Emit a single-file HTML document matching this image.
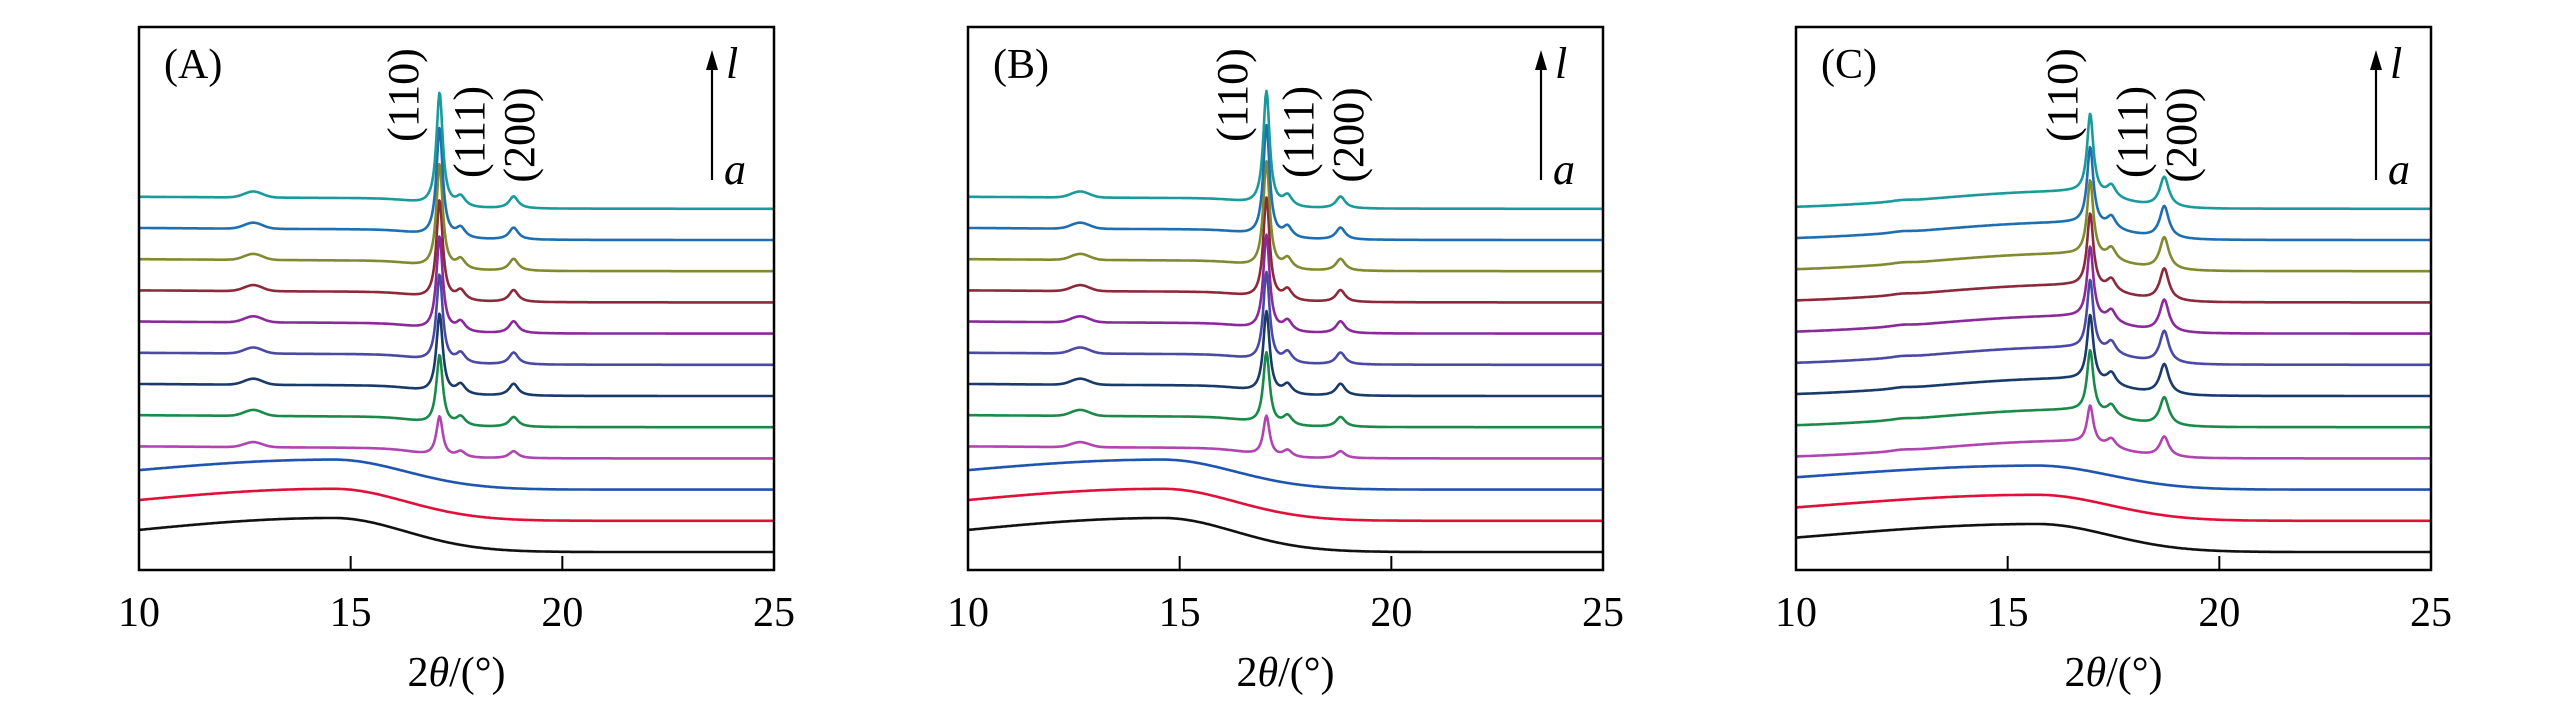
<!DOCTYPE html>
<html><head><meta charset="utf-8">
<style>
html,body{margin:0;padding:0;background:#fff;}
svg{display:block;}
svg text{font-family:"Liberation Serif","DejaVu Serif",serif;}
</style></head>
<body>
<svg id="chart" width="2567" height="709" viewBox="0 0 2567 709" xmlns="http://www.w3.org/2000/svg"></svg>
<script>
// ---- data ----
var panelNames = ["A", "B", "C"];
var xTicks = [10, 15, 20, 25];
var seriesColors = ["#111111","#e0103a","#1f55b0","#b044b0","#1a8a4a","#1a3a6a","#4a4aa4","#8a2a9a","#8a2a3a","#808a30","#1f6fb0","#1a9a9a"];
var peak110Pos = [17.1, 17.05, 16.95];
var peak111Pos = [17.6, 17.55, 17.45];
var peak200Pos = [18.85, 18.8, 18.7];
var humpPos = [12.7, 12.65, 12.5];
var amorphCenter = [14.6, 14.6, 15.7];
var h110A = [0,0,0,40,70,80,88,95,100,105,110,114];
var h110B = [0,0,0,40,72,82,90,96,102,107,112,115];
var h110C = [0,0,0,38,62,66,70,72,74,76,78,80];
var h111A = [0,0,0,6,9,10,10,10,10,10,10,10];
var h111B = [0,0,0,7,10,10,11,11,11,11,11,11];
var h111C = [0,0,0,9,11,12,12,12,12,12,12,12];
var h200A = [0,0,0,7,10,12,12,12,12,12,12,12];
var h200B = [0,0,0,7,10,12,12,12,12,12,12,12];
var h200C = [0,0,0,20,28,30,32,32,32,32,32,30];
var humpA = [0,0,0,5,6,6,6,6,6,6,6,6];
var humpB = [0,0,0,5,6,6,6,6,6,6,6,6];
var humpC = [0,0,0,1,1,1,1,1,1,1,1,1];
var amorphA = [34,32,30,12,12,12,12,12,12,12,12,12];
var amorphB = [34,32,30,12,12,12,12,12,12,12,12,12];
var amorphC = [28,26,24,17,17,17,17,17,17,17,17,17];
var h110 = [h110A,h110B,h110C], h111=[h111A,h111B,h111C], h200=[h200A,h200B,h200C], hHump=[humpA,humpB,humpC], hAm=[amorphA,amorphB,amorphC];

var NS = "http://www.w3.org/2000/svg";
var root = document.getElementById("chart");
var panelLeft = [139, 968, 1796];
var PW = 635, TOP = 27, BOT = 570;
var BASE0 = 552, STEP = 31.2;
var FONT = '"Liberation Serif","DejaVu Serif",serif';
function mk(tag, attrs, parent){
  var e=document.createElementNS(NS,tag);
  for(var k in attrs){ if(attrs.hasOwnProperty(k)) e.setAttribute(k,String(attrs[k])); }
  if(tag==="text") e.setAttribute("font-family",FONT);
  (parent||root).appendChild(e);
  return e;
}
function lor(x,c,w){var u=(x-c)/w;return 1/(1+u*u);}
function amShape(x,c,sl,sr){var s = x<c ? sl : sr;var u=(x-c)/s;return Math.exp(-u*u);}

function drawPanel(p){
  var name = panelNames[p];
  var L = panelLeft[p];
  var g = mk("g",{});
  
  
  function xs(v){return L + (v-10)/15*PW;}
  function ys(i,val){return BASE0 - STEP*i - val;}
  for(var i=0;i<seriesColors.length;i++){
    var d="";
    for(var k=0;k<=700;k++){
      var x = 10 + 15*k/700;
      var v;
      if(i<=2){
        v = hAm[p][i]*amShape(x, amorphCenter[p], 7, 2.4);
      } else if(p<2){
        v = hAm[p][i]*(0.85+0.15*(16.5-x)/6.5)/(1+Math.exp((x-16.6)/0.35));
      } else {
        v = hAm[p][i]*amShape(x, 16.3, 4.3, 1.6);
      }
      v += h110[p][i]*lor(x,peak110Pos[p],0.09);
      v += h111[p][i]*lor(x,peak111Pos[p],0.13);
      v += h200[p][i]*lor(x,peak200Pos[p],0.13);
      var u=(x-humpPos[p])/0.3;
      v += hHump[p][i]*Math.exp(-u*u);
      d += (k?"L":"M")+xs(x).toFixed(1)+","+ys(i,v).toFixed(1);
    }
    var path = mk("path",{d:d,fill:"none",stroke:seriesColors[i],"stroke-width":2.6,"stroke-linejoin":"round"},g);
    
    
  }
  var fr = mk("rect",{x:L,y:TOP,width:PW,height:BOT-TOP,fill:"none",stroke:"#000","stroke-width":2.5},g);
  
  
  for(var t=0;t<xTicks.length;t++){
    var tv = xTicks[t], tx = xs(tv);
    if(tv>10 && tv<25){
      var tk = mk("line",{x1:tx,x2:tx,y1:BOT,y2:BOT-14,stroke:"#000","stroke-width":2},g);
      
      
    }
    var lb = mk("text",{x:tx,y:626,"font-size":42,"text-anchor":"middle"},g);
    lb.textContent = String(tv);
    
    
  }
  var at = mk("text",{x:L+PW/2,y:686,"font-size":42,"text-anchor":"middle"},g);
  
  
  var s1 = mk("tspan",{},at); s1.textContent="2";
  var s2 = mk("tspan",{"font-style":"italic"},at); s2.textContent="\u03B8";
  var s3 = mk("tspan",{},at); s3.textContent="/(\u00B0)";
  var pl = mk("text",{x:L+25,y:78,"font-size":42},g);
  pl.textContent = "("+name+")";
  
  
  var offs = p===2 ? [267,337,386] : [265,331,381];
  var cy = [95,132,135];
  var labs = ["(110)","(111)","(200)"];
  for(var j=0;j<3;j++){
    var lx = L+offs[j]+14, ly = cy[j];
    var tt = mk("text",{x:lx,y:ly,"font-size":44,"text-anchor":"middle",transform:"rotate(-90 "+lx+" "+ly+")"},g);
    tt.textContent = labs[j];
    
    
  }
  var ax = L + (p===2?580:573);
  var ar = mk("line",{x1:ax,x2:ax,y1:180,y2:62,stroke:"#000","stroke-width":2.2},g);
  
  
  var ah = mk("path",{d:"M"+(ax-6)+",70 L"+ax+",50 L"+(ax+6)+",70 Z",fill:"#000"},g);
  
  
  var tl = mk("text",{x:ax+14,y:78,"font-size":44,"font-style":"italic"},g);
  tl.textContent = "l";
  
  
  var ta = mk("text",{x:ax+12,y:184,"font-size":44,"font-style":"italic"},g);
  ta.textContent = "a";
  
  
}
for(var pp=0;pp<3;pp++){ try{ drawPanel(pp); }catch(e){} }
</script>
</body></html>
